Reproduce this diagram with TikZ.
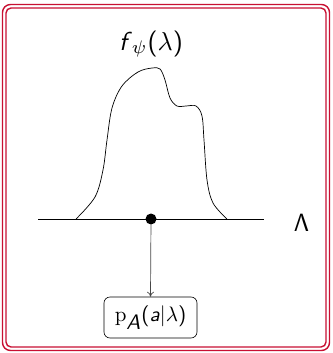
\documentclass[tikz,border=0pt]{standalone}
\usetikzlibrary{arrows.meta}
\definecolor{framered}{RGB}{200,16,50}
\definecolor{arrgray}{RGB}{70,70,70}
\tikzset{
  frameline/.style={draw=framered, line width=1.4pt, rounded corners=8pt},
  lbl/.style={inner sep=0pt, font=\sffamily},
  probbox/.style={draw, rounded corners=6pt, line width=0.6pt, minimum width=93pt, minimum height=41pt, inner sep=0pt},
  dot/.style={circle, fill=black, inner sep=0pt, minimum size=11pt},
  conn/.style={draw=arrgray, line width=0.7pt, -{To[length=5pt,width=7pt]}}
}
\begin{document}
\begin{tikzpicture}[x=1pt,y=-1pt]
\useasboundingbox (0,0) rectangle (332,353);
\draw[frameline] (2.5,4.5) rectangle (329.5,350.5);
\draw[frameline, rounded corners=5pt] (6,8) rectangle (326,347);
% axis
\coordinate (axL) at (38,219);
\coordinate (axR) at (264,219);
\draw[line width=0.8pt] (axL) -- (axR);
% density curve
\draw[line width=0.7pt] plot[smooth, tension=0.55] coordinates {(76,219) (95,197) (103,170) (107,140) (112,108) (122,86) (138,72) (152,68) (160,69) (165,80) (170,98) (177,106) (186,106) (196,106) (202,116) (204,140) (207,180) (213,203) (227,219)};
\node[lbl, scale=2.6] (f) at (151,44) {\textit{f}$_{\psi}$($\lambda$)};
\node[lbl, scale=2.5] (L) at (301.5,223) {$\mathsf{\Lambda}$};
\node[dot] (d) at (151,219) {};
\node[probbox] (p) at (150.5,317.5) {};
\node[lbl, scale=2.1] (pt) at (p.center) {$\mathrm{p}_{\textsf{\itshape A}}$(\textit{a}$|$$\lambda$)};
\draw[conn] (d) -- (p.north);
\end{tikzpicture}
\end{document}
